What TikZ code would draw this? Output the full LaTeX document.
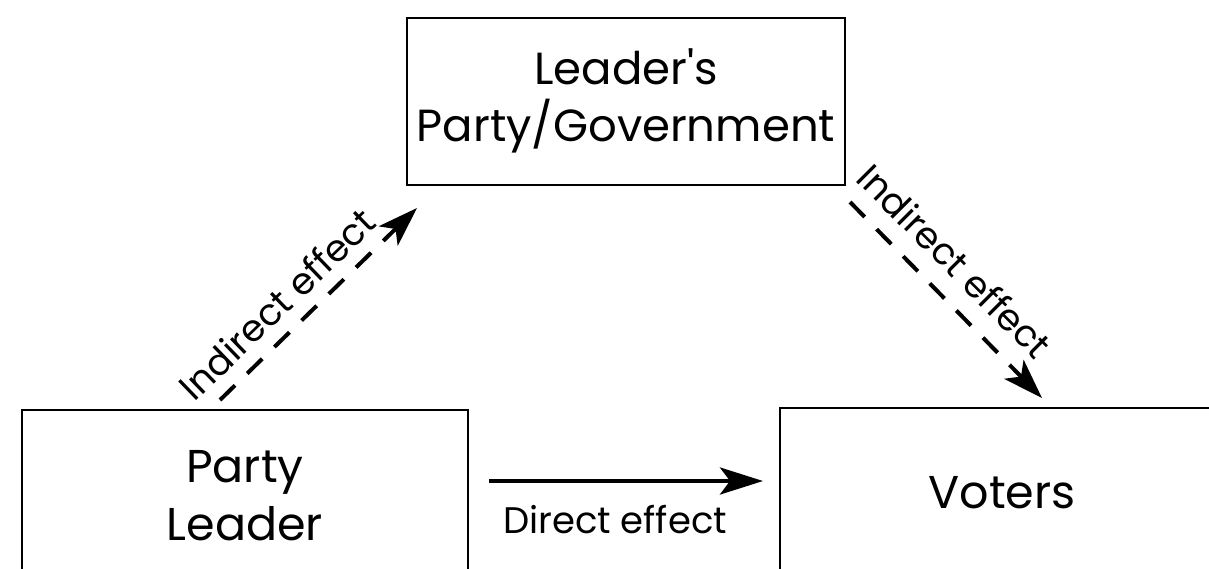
\documentclass[tikz,border=0pt]{standalone}
\usepackage{fontspec}
\setmainfont{Poppins}[Ligatures=TeXOff]
\usetikzlibrary{arrows.meta}
\begin{document}
\begin{tikzpicture}[x=1pt,y=-1pt,
  boxstyle/.style={draw=black,line width=2pt,inner sep=0pt},
  bigtext/.style={font=\fontsize{46}{56}\selectfont,anchor=base,inner sep=0pt},
  toptext/.style={font=\fontsize{45}{56}\selectfont,anchor=base,inner sep=0pt},
  labeltext/.style={font=\fontsize{37}{44}\selectfont,inner sep=0pt},
  solidarrow/.style={line width=4.5pt,-{Stealth[length=43pt,width=27pt,inset=10pt]}},
  dasharrow/.style={line width=4pt,dash pattern=on 21pt off 17pt,-{Stealth[length=40pt,width=27pt,inset=10pt]}}]
\useasboundingbox[fill=white] (0,0) rectangle (1209,568);
% boxes
\node[boxstyle,minimum width=438pt,minimum height=167pt] (gov) at (626,101.5) {};
\node[boxstyle,minimum width=446pt,minimum height=170pt] (leader) at (245,495) {};
\node[boxstyle,minimum width=444pt,minimum height=181pt] (voters) at (1002,498.5) {};
% box texts
\node[toptext] (gov1) at (626,84) {Leader's};
\node[toptext] (gov2) at (626,141) {Party/Government};
\node[bigtext] (leader1) at (245,482) {Party};
\node[bigtext] (leader2) at (245,540) {Leader};
\node[bigtext] (voters1) at (1002,508) {Voters};
% connectors
\coordinate (d1) at (489,481);
\coordinate (d2) at (763,481);
\coordinate (a1) at (220,400);
\coordinate (a2) at (417,208);
\coordinate (b1) at (850,202);
\coordinate (b2) at (1042,398);
\draw[solidarrow] (d1) -- (d2);
\draw[dasharrow] (a1) -- (a2);
\draw[dasharrow] (b1) -- (b2);
% labels
\node[labeltext,anchor=base] (dlab) at (615,533) {Direct effect};
\node[labeltext,rotate=44] (ilab1) at (277,304) {Indirect effect};
\node[labeltext,rotate=-45] (ilab2) at (955,261) {Indirect effect};
\end{tikzpicture}
\end{document}
